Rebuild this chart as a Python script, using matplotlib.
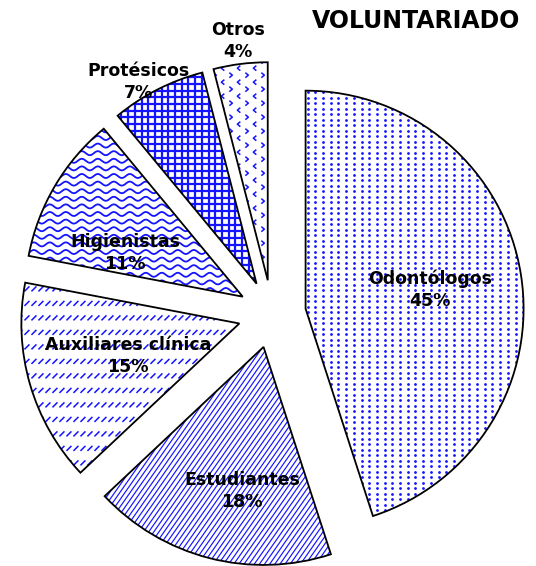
import numpy as np
import matplotlib.pyplot as plt
from matplotlib.collections import LineCollection

# data
labels = ['Odontólogos', 'Estudiantes', 'Auxiliares clínica', 'Higienistas', 'Protésicos', 'Otros']
values = [45, 18, 15, 11, 7, 4]
title = 'VOLUNTARIADO'

# layout (pixels of the 536x566 picture)
W, H = 536, 566
R = 218.0              # pie radius in pixels
CX, CY = 272, 314      # pie centre in pixels
P = 1 / R              # one pixel in data units
label_px = [(430, 290), (242, 491), (128, 356), (125, 253), (138, 82), (238, 41)]
BLUE = '#1414ff'

fig = plt.figure(figsize=(W / 100, H / 100), dpi=100)
ax = fig.add_axes([0, 0, 1, 1])

wedges, _ = ax.pie(values, startangle=90, counterclock=False,
                   explode=[34 / R] * len(values), radius=1,
                   wedgeprops=dict(facecolor='none', edgecolor='black',
                                   linewidth=1.3, zorder=3))
ax.set_xlim(-CX / R, (W - CX) / R)
ax.set_ylim(-(H - CY) / R, CY / R)
ax.axis('off')


def box(w):
    x0, y0 = w.center
    return x0 - 1.05, x0 + 1.05, y0 - 1.05, y0 + 1.05


def add_lines(segs, w, lw):
    lc = LineCollection(segs, colors=BLUE, linewidths=lw, zorder=2,
                        capstyle='butt')
    ax.add_collection(lc)
    lc.set_clip_path(w)


def dots(w):
    x0, x1, y0, y1 = box(w)
    xs, ys = np.meshgrid(np.arange(x0, x1, 7.7 * P), np.arange(y0, y1, 5.5 * P))
    ln, = ax.plot(xs.ravel(), ys.ravel(), 'o', ms=2.0, mew=0, color=BLUE, zorder=2)
    ln.set_clip_path(w)


def diagonal(w):
    x0, x1, y0, y1 = box(w)
    a = np.radians(55)
    d = np.array([np.cos(a), np.sin(a)])
    n = np.array([-np.sin(a), np.cos(a)])
    c = np.array(w.center)
    segs = []
    for k in np.arange(-1.5, 1.5, 4.2 * P):
        m = c + k * n
        segs.append([m - 1.5 * d, m + 1.5 * d])
    add_lines(segs, w, 0.85)


def dashes(w):
    x0, x1, y0, y1 = box(w)
    segs = []
    for y in np.arange(y0, y1, 14.5 * P):
        for x in np.arange(x0, x1, 7 * P):
            segs.append([(x, y), (x + 5 * P, y + 5 * P)])
    add_lines(segs, w, 1.1)


def waves(w):
    x0, x1, y0, y1 = box(w)
    t = np.linspace(x0, x1, 800)
    segs = []
    for y in np.arange(y0, y1, 7.6 * P):
        segs.append(np.column_stack([t, y + 2 * P * np.sin(2 * np.pi * (t - x0) / (16 * P))]))
    add_lines(segs, w, 1.3)


def grid(w):
    x0, x1, y0, y1 = box(w)
    segs = [[(x, y0), (x, y1)] for x in np.arange(x0, x1, 6.7 * P)]
    segs += [[(x0, y), (x1, y)] for y in np.arange(y0, y1, 6.7 * P)]
    add_lines(segs, w, 1.6)


def chevrons(w):
    x0, x1, y0, y1 = box(w)
    segs = []
    for i, x in enumerate(np.arange(x0, x1, 8 * P)):
        s = 1 if i % 2 == 0 else -1
        off = 0 if i % 2 == 0 else 7 * P
        for y in np.arange(y0 + off, y1, 14 * P):
            segs.append([(x - 1.5 * s * P, y + 2.5 * P), (x + 1.5 * s * P, y),
                         (x - 1.5 * s * P, y - 2.5 * P)])
    add_lines(segs, w, 1.1)


for w, fill in zip(wedges, [dots, diagonal, dashes, waves, grid, chevrons]):
    fill(w)

for lab, v, (px, py) in zip(labels, values, label_px):
    ax.text((px - CX) / R, (CY - py) / R, f'{lab}\n{v}%', ha='center', va='center',
            fontsize=12.5, fontweight='bold', family='DejaVu Sans',
            linespacing=1.3, zorder=4)

fig.text(416 / W, 1 - 21 / H, title, ha='center', va='center',
         fontsize=17, fontweight='bold', family='DejaVu Sans')

fig.savefig('out.png', dpi=100, facecolor='white')
